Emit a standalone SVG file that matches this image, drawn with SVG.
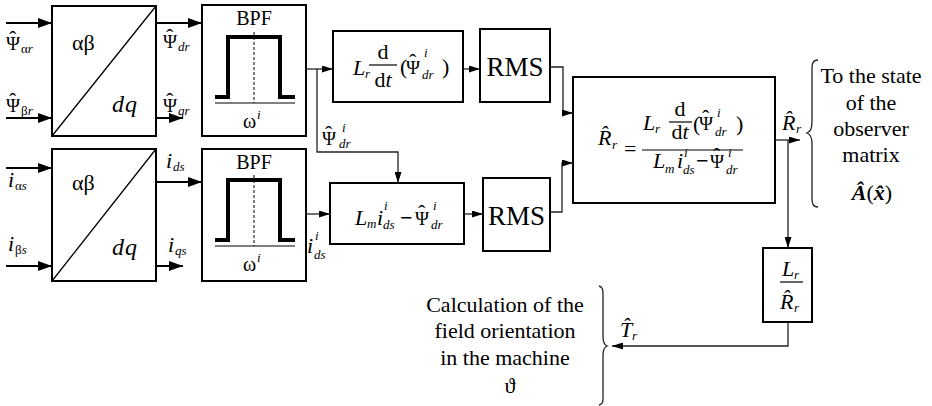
<svg xmlns="http://www.w3.org/2000/svg" width="932" height="406" viewBox="0 0 932 406" font-family="'Liberation Serif', Tinos, 'Times New Roman', 'DejaVu Serif', serif">
<style>
text{font-family:'Liberation Serif',Tinos,'Times New Roman','DejaVu Serif',serif;fill:#000}
.box{fill:#fff;stroke:#000;stroke-width:2}
.diag{stroke:#000;stroke-width:1.3}
.pulse{fill:none;stroke:#000;stroke-width:4}
.dash{stroke:#000;stroke-width:1;stroke-dasharray:3 2}
.base{stroke:#000;stroke-width:1.2}
.bar{stroke:#000;stroke-width:1.2}
.in{fill:none;stroke:#000;stroke-width:2}
.con{fill:none;stroke:#222;stroke-width:1.3}
.m{font-size:22px}
.g{font-size:19px}
.h{font-size:22px}
.it{font-style:italic}
.s{font-size:13px}
.c{text-anchor:middle}
.mn{font-size:22px;font-weight:bold}
.lbl{font-size:22px;text-anchor:middle}
.rms{font-size:27px;text-anchor:middle}
</style>
<defs>
<marker id="ab" markerUnits="userSpaceOnUse" viewBox="0 0 14 10" refX="14" refY="5" markerWidth="14" markerHeight="10" orient="auto"><path d="M0,0 L14,5 L0,10 z" fill="#000"/></marker>
<marker id="as" markerUnits="userSpaceOnUse" viewBox="0 0 11 7" refX="11" refY="3.5" markerWidth="11" markerHeight="7" orient="auto"><path d="M0,0 L11,3.5 L0,7 z" fill="#000"/></marker>
</defs>

<g id="inputs">
<path class="in" d="M6 23 H52" marker-end="url(#ab)"/>
<path class="in" d="M6 118 H52" marker-end="url(#ab)"/>
<path class="in" d="M6 168 H52" marker-end="url(#ab)"/>
<path class="in" d="M6 266 H52" marker-end="url(#ab)"/>
<text class="g" x="6" y="50">Ψ<tspan class="h" dx="-11" dy="-4">ˆ</tspan></text><text class="s" x="21" y="53">α<tspan class="it">r</tspan></text>
<text class="g" x="6" y="112">Ψ<tspan class="h" dx="-11" dy="-4">ˆ</tspan></text><text class="s" x="21" y="115">β<tspan class="it">r</tspan></text>
<text class="m it" x="8" y="187">i</text><text class="s" x="15" y="190">α<tspan class="it">s</tspan></text>
<text class="m it" x="8" y="251">i</text><text class="s" x="15" y="254">β<tspan class="it">s</tspan></text>
</g>

<g id="abdq1">
<rect class="box" x="52" y="6" width="104" height="130"/>
<line class="diag" x1="52" y1="136" x2="156" y2="6"/>
<text class="m" x="72" y="50">αβ</text>
<text class="m it" x="112" y="112" style="font-size:24px;letter-spacing:1px">dq</text>
</g>
<g id="abdq2">
<rect class="box" x="52" y="149" width="104" height="132"/>
<line class="diag" x1="52" y1="281" x2="156" y2="149"/>
<text class="m" x="72" y="190">αβ</text>
<text class="m it" x="112" y="255" style="font-size:24px;letter-spacing:1px">dq</text>
</g>

<g id="outputs">
<path class="in" d="M156 23 H202" marker-end="url(#ab)"/>
<path class="in" d="M156 118 H183" marker-end="url(#ab)"/>
<path class="in" d="M156 182 H202" marker-end="url(#ab)"/>
<path class="in" d="M156 266 H183" marker-end="url(#ab)"/>
<text class="g" x="163" y="48">Ψ<tspan class="h" dx="-11" dy="-4">ˆ</tspan></text><text class="s it" x="178" y="51">dr</text>
<text class="g" x="163" y="112">Ψ<tspan class="h" dx="-11" dy="-4">ˆ</tspan></text><text class="s it" x="178" y="115">qr</text>
<text class="m it" x="166" y="168">i</text><text class="s it" x="173" y="171">ds</text>
<text class="m it" x="168" y="252">i</text><text class="s it" x="175" y="255">qs</text>
</g>

<g id="bpf1">
<rect class="box" x="202" y="5" width="104" height="131"/>
<text class="c" x="254" y="25" style="font-size:20px">BPF</text>
<line class="dash" x1="254" y1="32" x2="254" y2="103"/>
<path class="pulse" d="M215 97 H228 V37 H280 V97 H295"/>
<line class="base" x1="215" y1="103" x2="295" y2="103"/>
<text x="243" y="128" style="font-size:20px">ω</text><text class="s it" x="257" y="119">i</text>
</g>
<g id="bpf2">
<rect class="box" x="202" y="149" width="104" height="132"/>
<text class="c" x="254" y="169" style="font-size:20px">BPF</text>
<line class="dash" x1="254" y1="175" x2="254" y2="246"/>
<path class="pulse" d="M215 240 H228 V180 H280 V240 H295"/>
<line class="base" x1="215" y1="246" x2="295" y2="246"/>
<text x="243" y="271" style="font-size:20px">ω</text><text class="s it" x="257" y="262">i</text>
</g>

<g id="deriv">
<rect class="box" x="333" y="31" width="130" height="71"/>
<text class="m it" x="353" y="75">L</text><text class="s it" x="365" y="78">r</text>
<text class="m c" x="383" y="59">d</text>
<line class="bar" x1="369" y1="65" x2="397" y2="65"/>
<text class="m c" x="383" y="87">d<tspan class="it">t</tspan></text>
<text class="m" x="400" y="74">(</text>
<text class="g" x="406" y="74">Ψ<tspan class="h" dx="-11" dy="-5">ˆ</tspan></text>
<text class="s it" x="424" y="57">i</text><text class="s it" x="422" y="79">dr</text>
<text class="m" x="442" y="74">)</text>
</g>

<g id="rms1">
<rect class="box" x="480" y="29" width="70" height="73"/>
<text class="rms" x="515" y="76">RMS</text>
</g>

<g id="diff">
<rect class="box" x="330" y="183" width="134" height="61"/>
<text class="m it" x="355" y="225">L</text><text class="s it" x="367" y="228">m</text>
<text class="m it" x="377" y="225">i</text><text class="s it" x="384" y="210">i</text><text class="s it" x="383" y="229">ds</text>
<text class="mn" x="400" y="225">−</text>
<text class="g" x="415" y="225">Ψ<tspan class="h" dx="-11" dy="-5">ˆ</tspan></text>
<text class="s it" x="433" y="210">i</text><text class="s it" x="431" y="229">dr</text>
</g>

<g id="rms2">
<rect class="box" x="483" y="178" width="67" height="73"/>
<text class="rms" x="516.5" y="225">RMS</text>
</g>

<g id="rr">
<rect class="box" x="573" y="77" width="202" height="126"/>
<text class="m it" x="598" y="145">R̂</text><text class="s it" x="612" y="149">r</text>
<text class="m" x="624" y="156">=</text>
<line class="bar" x1="642" y1="150" x2="743" y2="150"/>
<text class="m it" x="643" y="130">L</text><text class="s it" x="655" y="133">r</text>
<text class="m c" x="680" y="116">d</text>
<line class="bar" x1="669" y1="122" x2="692" y2="122"/>
<text class="m c" x="680" y="139">d<tspan class="it">t</tspan></text>
<text class="m" x="693" y="131">(</text>
<text class="g" x="699" y="130">Ψ<tspan class="h" dx="-11" dy="-5">ˆ</tspan></text>
<text class="s it" x="717" y="117">i</text><text class="s it" x="715" y="136">dr</text>
<text class="m" x="736" y="131">)</text>
<text class="m it" x="653" y="168">L</text><text class="s it" x="665" y="173">m</text>
<text class="m it" x="677" y="168">i</text><text class="s it" x="684" y="157">i</text><text class="s it" x="683" y="174">ds</text>
<text class="mn" x="696" y="168">−</text>
<text class="g" x="710" y="168">Ψ<tspan class="h" dx="-11" dy="-5">ˆ</tspan></text>
<text class="s it" x="728" y="157">i</text><text class="s it" x="726" y="174">dr</text>
</g>

<g id="tr">
<rect class="box" x="763" y="248" width="49" height="74"/>
<text class="m it" x="782" y="276">L</text><text class="s it" x="794" y="279">r</text>
<line class="bar" x1="780" y1="282" x2="803" y2="282"/>
<text class="m it" x="780" y="309">R̂</text><text class="s it" x="794" y="312">r</text>
</g>

<g id="connectors">
<path class="con" d="M306 69 H333" marker-end="url(#as)"/>
<path class="con" d="M317 69 V152 H398 V183" marker-end="url(#as)"/>
<path class="con" d="M463 69 H480" marker-end="url(#as)"/>
<path class="con" d="M550 67 H563 V113 H573" marker-end="url(#as)"/>
<path class="con" d="M306 214 H330" marker-end="url(#as)"/>
<path class="con" d="M464 214 H483" marker-end="url(#as)"/>
<path class="con" d="M550 212 H562 V163 H573" marker-end="url(#as)"/>
<path class="con" d="M775 140 H800" marker-end="url(#as)"/>
<path class="con" d="M788 140 V248" marker-end="url(#as)"/>
<path class="con" d="M788 322 V346 H612" marker-end="url(#as)"/>
</g>

<g id="labels">
<text class="g" x="322" y="145">Ψ<tspan class="h" dx="-11" dy="-4">ˆ</tspan></text><text class="s it" x="342" y="132">i</text><text class="s it" x="339" y="148">dr</text>
<text class="m it" x="307" y="253">i</text><text class="s it" x="315" y="240">i</text><text class="s it" x="314" y="259">ds</text>
<text class="m it" x="782" y="130">R̂</text><text class="s it" x="796" y="133">r</text>
<text class="m it" x="620" y="337">T̂</text><text class="s it" x="632" y="340">r</text>
</g>

<g id="observer">
<path class="con" d="M818 60 C813 60 812 63 812 70 L812 122 C812 129 810 132 807 133 C810 134 812 137 812 144 L812 197 C812 204 813 207 818 207"/>
<text class="lbl" x="871" y="83">To the state</text>
<text class="lbl" x="871" y="110">of the</text>
<text class="lbl" x="871" y="136">observer</text>
<text class="lbl" x="871" y="162">matrix</text>
<text class="lbl" x="872" y="200"><tspan font-weight="bold" font-style="italic">Â</tspan>(<tspan font-weight="bold" font-style="italic">x̂</tspan>)</text>
</g>

<g id="orientation">
<path class="con" d="M599 286 C603 287 603 290 603 296 L603 336 C603 342 604 345 607 346 C604 347 603 350 603 356 L603 396 C603 402 603 404 599 405"/>
<text class="lbl" x="505" y="312">Calculation of the</text>
<text class="lbl" x="505" y="338">field orientation</text>
<text class="lbl" x="505" y="365">in the machine</text>
<text class="lbl" x="510" y="393">ϑ</text>
</g>
</svg>
